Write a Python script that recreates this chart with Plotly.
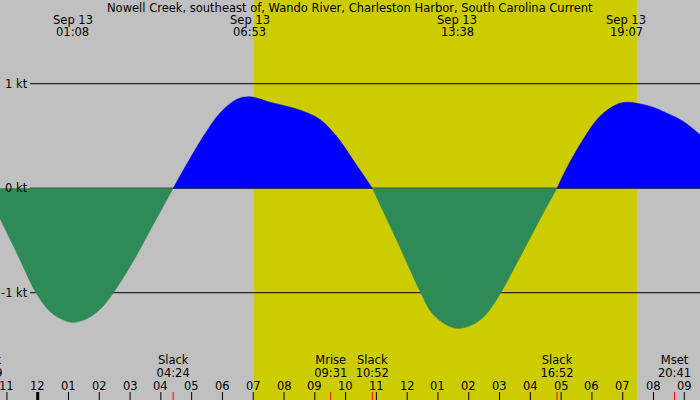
import plotly.graph_objects as go

# ---------------- data (hours after midnight, Sep 13; knots) ----------------
hours = [-1.68, -1.224, -0.63, -0.055, 0.40, 0.83, 1.133, 1.59, 2.02, 2.46, 3.10, 3.75, 4.40,
         4.83, 5.38, 5.92, 6.46, 6.883, 7.54, 8.08, 8.62, 9.17, 9.71, 10.24, 10.867,
         11.17, 11.71, 12.44, 12.79, 13.23, 13.633, 14.09, 14.52, 15.04, 15.50, 16.04, 16.47, 16.867,
         17.18, 17.71, 18.26, 18.80, 19.117, 19.88, 20.42, 20.96, 21.51]
speed = [0, -0.29, -0.65, -1.0, -1.18, -1.26, -1.285, -1.25, -1.16, -1.0, -0.70, -0.35, 0,
         0.224, 0.496, 0.72, 0.85, 0.875, 0.823, 0.785, 0.737, 0.657, 0.496, 0.272, 0,
         -0.19, -0.53, -1.0, -1.19, -1.30, -1.342, -1.31, -1.22, -1.0, -0.75, -0.45, -0.21, 0,
         0.192, 0.464, 0.688, 0.80, 0.823, 0.785, 0.72, 0.64, 0.512]

title_text = "Nowell Creek, southeast of, Wando River, Charleston Harbor, South Carolina Current"

peak_hours = [1.133, 6.883, 13.633, 19.117]
peak_dates = ["Sep 13", "Sep 13", "Sep 13", "Sep 13"]
peak_times = ["01:08", "06:53", "13:38", "19:07"]

event_hours = [-1.68, 4.40, 9.517, 10.867, 16.867, 20.683]
event_names = ["Slack", "Slack", "Mrise", "Slack", "Slack", "Mset"]
event_times = ["22:19", "04:24", "09:31", "10:52", "16:52", "20:41"]

sunrise = 7.02
sunset = 19.47

tick_hours = list(range(-1, 22))
tick_labels = ["11", "12", "01", "02", "03", "04", "05", "06", "07", "08", "09", "10",
               "11", "12", "01", "02", "03", "04", "05", "06", "07", "08", "09"]

kt_levels = [1, 0, -1]
kt_labels = ["1 kt", "0 kt", "-1 kt"]

# ---------------- style / layout ----------------
W, H = 700, 400
ZERO_PX = 188.2
PX_PER_KT = 104.5
X_RANGE = [-1.2244, 21.51]
Y_TOP = ZERO_PX / PX_PER_KT
Y_BOT = (ZERO_PX - H) / PX_PER_KT


def ypx(px):
    return (ZERO_PX - px) / PX_PER_KT


FONT = dict(family="DejaVu Sans", size=11.5, color="black")
GRAY = "#C0C0C0"
YELLOW = "#CCCC00"
BLUE = "#0000FF"
GREEN = "#2E8B57"

fig = go.Figure()

# split the curve into flood / ebb segments at slack points
zeros = [i for i, v in enumerate(speed) if v == 0]
bounds = zeros + ([len(speed) - 1] if zeros[-1] != len(speed) - 1 else [])
for a, b in zip(bounds[:-1], bounds[1:]):
    seg_x = hours[a:b + 1]
    seg_y = speed[a:b + 1]
    col = BLUE if sum(seg_y) > 0 else GREEN
    fig.add_trace(go.Scatter(x=seg_x, y=seg_y, mode="lines", line=dict(shape="spline", width=0.5, color=col),
                             fill="tozeroy", fillcolor=col, hoverinfo="skip", showlegend=False))

# bottom event labels (clipped by plot area)
fig.add_trace(go.Scatter(x=event_hours, y=[ypx(361.5)] * len(event_hours), mode="text", text=event_names,
                         textfont=FONT, textposition="middle center", hoverinfo="skip", showlegend=False))
fig.add_trace(go.Scatter(x=event_hours, y=[ypx(374)] * len(event_hours), mode="text", text=event_times,
                         textfont=FONT, textposition="middle center", hoverinfo="skip", showlegend=False))

shapes = []
shapes.append(dict(type="rect", xref="x", yref="paper", x0=sunrise, x1=sunset, y0=0, y1=1,
                   fillcolor=YELLOW, line=dict(width=0), layer="below"))
for lv in kt_levels:
    shapes.append(dict(type="line", xref="paper", yref="y", x0=30 / W, x1=1, y0=lv, y1=lv,
                       line=dict(color="black", width=1), layer="below"))
for h in tick_hours:
    thick = (h % 24 == 0)
    shapes.append(dict(type="line", xref="x", yref="y", x0=h, x1=h, y0=ypx(392), y1=ypx(400),
                       line=dict(color="black", width=3 if thick else 1)))
for h in event_hours:
    shapes.append(dict(type="line", xref="x", yref="y", x0=h, x1=h, y0=ypx(392), y1=ypx(400),
                       line=dict(color="red", width=1)))

annotations = []
annotations.append(dict(text=title_text, xref="paper", yref="y", x=0.5, y=ypx(7.5), showarrow=False,
                        font=FONT, xanchor="center", yanchor="middle", borderpad=0))
for h, d, t in zip(peak_hours, peak_dates, peak_times):
    annotations.append(dict(text=d, xref="x", yref="y", x=h, y=ypx(19.5), showarrow=False, font=FONT,
                            xanchor="center", yanchor="middle", borderpad=0))
    annotations.append(dict(text=t, xref="x", yref="y", x=h, y=ypx(31.5), showarrow=False, font=FONT,
                            xanchor="center", yanchor="middle", borderpad=0))
for lv, lab in zip(kt_levels, kt_labels):
    annotations.append(dict(text=lab, xref="paper", yref="y", x=28.5 / W, y=lv, showarrow=False, font=FONT,
                            xanchor="right", yanchor="middle", borderpad=0))
for h, lab in zip(tick_hours, tick_labels):
    annotations.append(dict(text=lab, xref="x", yref="y", x=h, y=ypx(385.5), showarrow=False, font=FONT,
                            xanchor="center", yanchor="middle", borderpad=0))

fig.update_layout(
    width=W, height=H,
    margin=dict(l=0, r=0, t=0, b=0),
    paper_bgcolor=GRAY, plot_bgcolor=GRAY,
    xaxis=dict(range=X_RANGE, visible=False, fixedrange=True),
    yaxis=dict(range=[Y_BOT, Y_TOP], visible=False, fixedrange=True),
    shapes=shapes, annotations=annotations,
    showlegend=False,
)

fig.write_html("out.html", config={"displayModeBar": False},
               post_script="document.body.style.margin='0';document.body.style.padding='0';")
